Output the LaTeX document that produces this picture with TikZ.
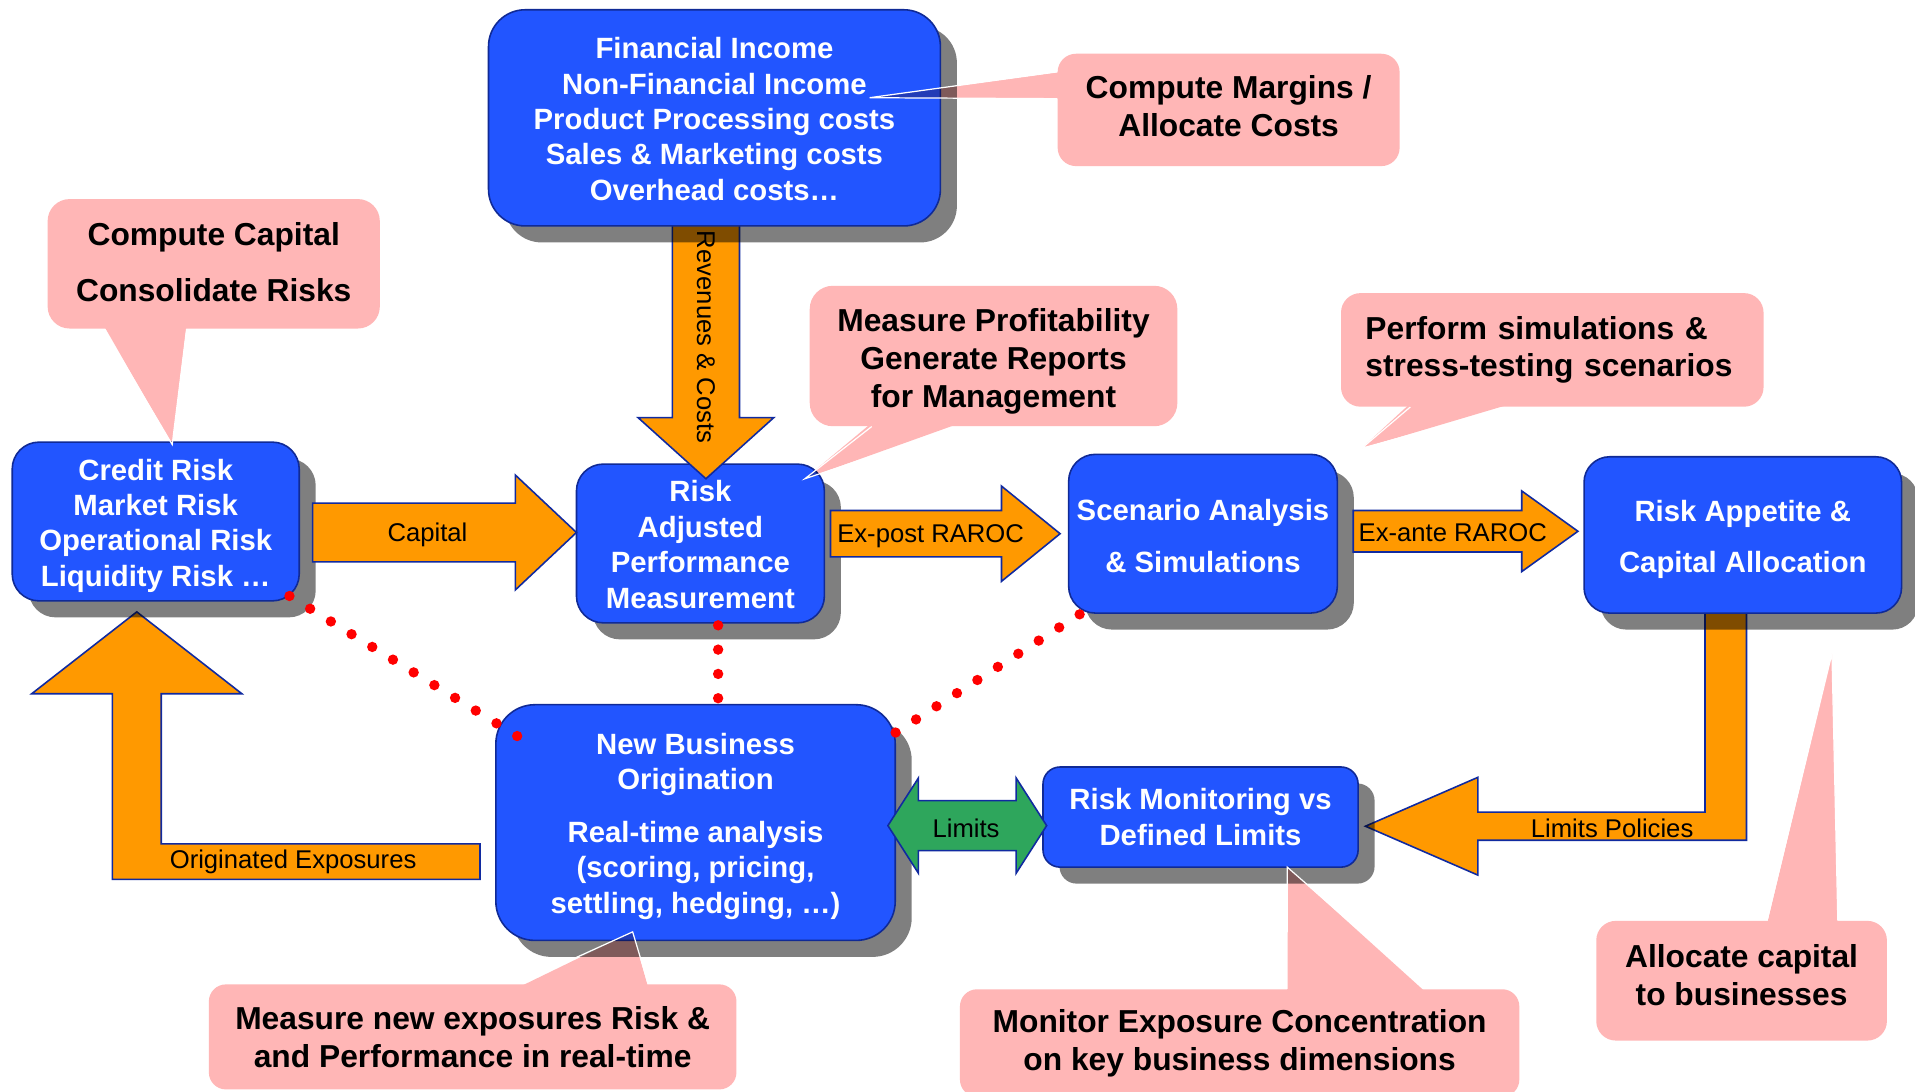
\documentclass[tikz,border=0pt]{standalone}
\usepackage{fontspec}
\setmainfont{Liberation Sans}
\usetikzlibrary{calc,shadows}
\pgfdeclarelayer{bg}
\pgfdeclarelayer{fga}
\pgfdeclarelayer{fgb}
\pgfdeclarelayer{fgc}
\pgfdeclarelayer{top}
\pgfsetlayers{bg,main,fga,fgb,fgc,top}
\definecolor{bfill}{RGB}{34,85,255}
\definecolor{bline}{RGB}{16,42,150}
\definecolor{pinkc}{RGB}{255,182,182}
\definecolor{orng}{RGB}{255,153,0}
\definecolor{grn}{RGB}{46,166,92}
\definecolor{aline}{RGB}{16,42,160}
\newcommand{\rightblock}[6]{\path[#1] let \p1=(#2),\p2=(#3) in (\x1,\y2+#4) -- (\x2-#6,\y2+#4) -- (\x2-#6,\y2+#5) -- (\x2,\y2) -- (\x2-#6,\y2-#5) -- (\x2-#6,\y2-#4) -- (\x1,\y2-#4) -- cycle;}
\newcommand{\downblock}[6]{\path[#1] let \p1=(#2),\p2=(#3) in (\x2+#4,\y1) -- (\x2+#4,\y2+#6) -- (\x2+#5,\y2+#6) -- (\x2,\y2) -- (\x2-#5,\y2+#6) -- (\x2-#4,\y2+#6) -- (\x2-#4,\y1) -- cycle;}
\newcommand{\topstrut}[1]{\rule{0pt}{#1}}
\tikzset{
 bbox/.style={rectangle, fill=bfill, draw=bline, line width=1.3pt, text=white, align=center, inner sep=0pt,
   font=\bfseries\fontsize{24}{29}\selectfont,
   drop shadow={shadow xshift=13.5pt, shadow yshift=-13.5pt, fill=black, opacity=0.5}},
 callout/.style={rectangle, fill=pinkc, text=black, align=center, inner sep=0pt, font=\bfseries\fontsize{26}{31}\selectfont},
 tup/.style={execute at end node={\rule[-#1]{0pt}{#1}}},
 ptr/.style={fill=pinkc, blend mode=multiply},
 ptredge/.style={draw=white, line width=1pt},
 barrow/.style={fill=orng, draw=aline, line width=1.3pt, line join=miter},
 garrow/.style={fill=grn, draw=aline, line width=1.3pt, line join=miter},
 alabel/.style={font=\fontsize{21}{25}\selectfont, text=black, inner sep=0pt},
 dotline/.style={draw=red, line width=8.5pt, line cap=round, dash pattern=on 0pt off 19.9pt},
}
\begin{document}
\begin{tikzpicture}[x=1pt,y=-1pt]
\useasboundingbox (0,0) rectangle (1568,894);
\begin{pgfonlayer}{bg}
\fill[white] (0,0) rectangle (1568,894);
\end{pgfonlayer}

% ---- blue process boxes
\node[bbox, minimum width=235pt, minimum height=130pt, rounded corners=22pt] (cr) at (127.5,427)
  {\topstrut{24.2pt}Credit Risk\\Market Risk\\Operational Risk\\Liquidity Risk …};
\node[bbox, minimum width=203pt, minimum height=130pt, rounded corners=22pt] (rapm) at (573.5,445)
  {\topstrut{19.2pt}Risk\\Adjusted\\Performance\\Measurement};
\node[bbox, minimum width=220pt, minimum height=130pt, rounded corners=22pt, font=\bfseries\fontsize{24}{43}\selectfont] (scen) at (985,437)
  {\topstrut{21.2pt}Scenario Analysis\\\& Simulations};
\node[bbox, minimum width=260pt, minimum height=128pt, rounded corners=21pt, font=\bfseries\fontsize{24}{42}\selectfont] (app) at (1427,438)
  {\topstrut{24.2pt}Risk Appetite \&\\Capital Allocation};
\node[bbox, minimum width=327pt, minimum height=193pt, rounded corners=32pt] (nb) at (569.5,673.5)
  {\topstrut{23.2pt}New Business\\Origination\\[14pt]Real-time analysis\\(scoring, pricing,\\settling, hedging, …)};
\node[bbox, minimum width=258pt, minimum height=82pt, rounded corners=14pt] (mon) at (983,669)
  {Risk Monitoring vs\\Defined Limits};
\begin{pgfonlayer}{fgb}
\node[bbox, minimum width=370pt, minimum height=177pt, rounded corners=30pt] (fin) at (585,96.5)
  {\topstrut{19.2pt}Financial Income\\Non-Financial Income\\Product Processing costs\\Sales \& Marketing costs\\Overhead costs…};
\end{pgfonlayer}

% ---- arrow end points
\coordinate (capA) at (256,436);  \coordinate (capB) at (472,436);
\coordinate (epA) at (680,437);   \coordinate (epB) at (868,437);
\coordinate (eaA) at (1108,435);  \coordinate (eaB) at (1292,435);
\coordinate (rvA) at (578,180);   \coordinate (rvB) at (578,392);
\coordinate (lmA) at (727,676);   \coordinate (lmB) at (857,676);
\coordinate (lpA) at (1413,498);  \coordinate (lpB) at (1118,676.5);
\coordinate (oeA) at (393,705.5); \coordinate (oeB) at (112,501);

% ---- arrows under the shadows
\begin{pgfonlayer}{bg}
\path[barrow] let \p1=(lpA),\p2=(lpB) in
  (\x1-17pt,\y1) -- (\x1-17pt,\y2+11.5pt) -- (\x2+92pt,\y2+11.5pt) -- (\x2+92pt,\y2+40pt) -- (\x2,\y2)
  -- (\x2+92pt,\y2-40pt) -- (\x2+92pt,\y2-11.5pt) -- (\x1+17pt,\y2-11.5pt) -- (\x1+17pt,\y1) -- cycle;
\path[barrow] let \p1=(oeA),\p2=(oeB) in
  (\x1,\y1+14.5pt) -- (\x2+20pt,\y1+14.5pt) -- (\x2+20pt,\y2-67pt) -- (\x2+86pt,\y2-67pt) -- (\x2,\y2)
  -- (\x2-86pt,\y2-67pt) -- (\x2-20pt,\y2-67pt) -- (\x2-20pt,\y1-14.5pt) -- (\x1,\y1-14.5pt) -- cycle;
\node[alabel] (llp) at (1320,678) {Limits Policies};
\node[alabel] (loe) at (240,706) {Originated Exposures};
\end{pgfonlayer}

% ---- arrows above the boxes
\begin{pgfonlayer}{fga}
\rightblock{barrow}{capA}{capB}{24pt}{47pt}{50pt}
\rightblock{barrow}{epA}{epB}{19pt}{39pt}{48pt}
\rightblock{barrow}{eaA}{eaB}{17pt}{33pt}{46pt}
\downblock{barrow}{rvA}{rvB}{27.5pt}{55.5pt}{50pt}
\path[garrow] let \p1=(lmA),\p2=(lmB) in
  (\x1,\y1) -- (\x1+25pt,\y1+39pt) -- (\x1+25pt,\y1+20.5pt) -- (\x2-25pt,\y1+20.5pt) -- (\x2-25pt,\y1+39pt)
  -- (\x2,\y1) -- (\x2-25pt,\y1-39pt) -- (\x2-25pt,\y1-20.5pt) -- (\x1+25pt,\y1-20.5pt) -- (\x1+25pt,\y1-39pt) -- cycle;
\node[alabel] (lcap) at (350,438) {Capital};
\node[alabel] (lep) at (762,439) {Ex-post RAROC};
\node[alabel] (lea) at (1189.5,436) {Ex-ante RAROC};
\node[alabel, rotate=-90] (lrv) at (578,276) {Revenues \& Costs};
\node[alabel] (llm) at (791,678) {Limits};
\end{pgfonlayer}

% ---- callouts
\begin{pgfonlayer}{top}
\node[callout, tup=3.3pt, minimum width=272pt, minimum height=106pt, rounded corners=18pt, font=\bfseries\fontsize{26}{46}\selectfont] (cap) at (175,216)
  {Compute Capital\\Consolidate Risks};
\node[callout, tup=6.3pt, minimum width=280pt, minimum height=92pt, rounded corners=15pt] (marg) at (1006,90)
  {Compute Margins /\\Allocate Costs};
\node[callout, minimum width=301pt, minimum height=115pt, rounded corners=19pt, font=\bfseries\fontsize{26}{31.5}\selectfont] (prof) at (813.5,291.5)
  {\topstrut{27.6pt}Measure Profitability\\Generate Reports\\for Management};
\node[callout, minimum width=346pt, minimum height=93pt, rounded corners=16pt, text width=306pt, align=left] (sim) at (1271,286.5)
  {Perform simulations \&\\stress-testing scenarios};
\node[callout, tup=9.3pt, minimum width=238pt, minimum height=98pt, rounded corners=16pt] (alloc) at (1426,803)
  {Allocate capital\\to businesses};
\node[callout, minimum width=458pt, minimum height=88pt, rounded corners=14pt] (monx) at (1015,854)
  {Monitor Exposure Concentration\\on key business dimensions};
\node[callout, minimum width=432pt, minimum height=86pt, rounded corners=14pt] (newx) at (387,849)
  {Measure new exposures Risk \&\\and Performance in real-time};
\end{pgfonlayer}

% ---- dotted links and callout pointers
\coordinate (d1a) at (237,488); \coordinate (d1b) at (424,603);
\coordinate (d2a) at (588,512); \coordinate (d2b) at (588,572);
\coordinate (d3a) at (884,503); \coordinate (d3b) at (733,600);
\coordinate (capT) at (141,364);
\coordinate (margT) at (712,80);
\coordinate (profT) at (659,392);
\coordinate (simT) at (1115,367);
\coordinate (allocT) at (1500,535);
\coordinate (monxT) at (1054,710);
\coordinate (newxT) at (518,763);
\begin{pgfonlayer}{fgc}
\draw[dotline] (d1a) -- (d1b);
\draw[dotline] (d2a) -- (d2b);
\draw[dotline] (d3a) -- (d3b);
\path[ptr] ($(cap.south west)+(46,-3)$) -- (capT) -- ($(cap.south west)+(114,-3)$) -- cycle;
\draw[ptredge] ($(cap.south west)+(46,0)$) -- (capT) -- ($(cap.south west)+(114,0)$);
\path[ptr] ($(marg.north west)+(3,15)$) -- (margT) -- ($(marg.north west)+(3,37)$) -- cycle;
\draw[ptredge] ($(marg.north west)+(0,15)$) -- (margT) -- ($(marg.north west)+(0,37)$);
\path[ptr] ($(prof.south west)+(51,-3)$) -- (profT) -- ($(prof.south west)+(124,-3)$) -- cycle;
\draw[ptredge] ($(prof.south west)+(51,0)$) -- (profT) -- ($(prof.south west)+(124,0)$);
\path[ptr] ($(sim.south west)+(57,-3)$) -- (simT) -- ($(sim.south west)+(141,-3)$) -- cycle;
\draw[ptredge] ($(sim.south west)+(57,0)$) -- (simT) -- ($(sim.south west)+(141,0)$);
\path[ptr] ($(alloc.north west)+(140,3)$) -- (allocT) -- ($(alloc.north west)+(198,3)$) -- cycle;
\draw[ptredge] ($(alloc.north west)+(140,0)$) -- (allocT) -- ($(alloc.north west)+(198,0)$);
\path[ptr] ($(monx.north west)+(268,3)$) -- (monxT) -- ($(monx.north west)+(382,3)$) -- cycle;
\draw[ptredge] ($(monx.north west)+(268,0)$) -- (monxT) -- ($(monx.north west)+(382,0)$);
\path[ptr] ($(newx.north west)+(253,3)$) -- (newxT) -- ($(newx.north west)+(360,3)$) -- cycle;
\draw[ptredge] ($(newx.north west)+(253,0)$) -- (newxT) -- ($(newx.north west)+(360,0)$);
\end{pgfonlayer}
\end{tikzpicture}
\end{document}
